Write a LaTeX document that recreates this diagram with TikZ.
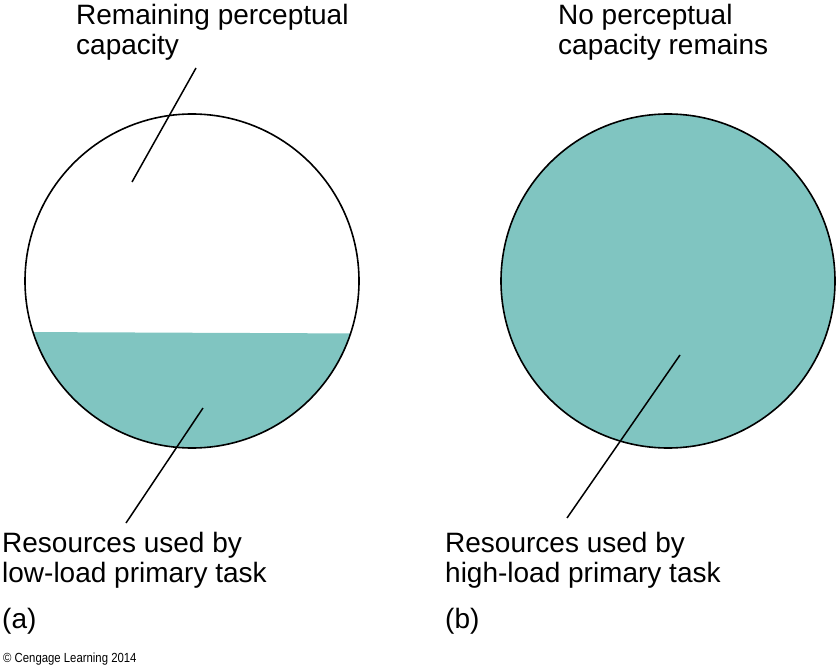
\documentclass[tikz,border=0pt]{standalone}
\usepackage{fontspec}
\setmainfont{Liberation Sans}
\newfontfamily\creditfont[FakeStretch=0.86]{Liberation Sans}
\definecolor{teal1}{RGB}{128,197,193}
\begin{document}
\begin{tikzpicture}[x=1pt,y=-1pt,
  lbl/.style={inner sep=0pt, anchor=base west, align=left, font=\fontsize{28}{30}\selectfont},
  leader/.style={line width=1.5pt, black},
  ring/.style={line width=1.6pt, black}]
\useasboundingbox (0,0) rectangle (836,666);
% left circle
\begin{scope}
  \clip (192,281) circle (167);
  \fill[teal1] (20,332) -- (365,333.5) -- (365,460) -- (20,460) -- cycle;
\end{scope}
\draw[ring] (192,281) circle (167);
% right circle
\draw[ring, fill=teal1] (668,281) circle (167);
% labels (anchor = baseline of the last line)
\node[lbl] (t1) at (76,55) {Remaining perceptual\\capacity};
\node[lbl] (t2) at (558,55) {No perceptual\\capacity remains};
\node[lbl] (t3) at (2,582) {Resources used by\\low-load primary task};
\node[lbl] (t4) at (445,582) {Resources used by\\high-load primary task};
\node[lbl] (a) at (2,628) {(a)};
\node[lbl] (b) at (445,628) {(b)};
\node[inner sep=0pt, anchor=base west, font=\creditfont\fontsize{13.2}{15}\selectfont] (cr) at (3,662) {© Cengage Learning 2014};
% leaders
\coordinate (l1a) at (196,68);
\coordinate (l1b) at (132,182);
\coordinate (l2a) at (203,408);
\coordinate (l2b) at (126,523);
\coordinate (l3a) at (680,355);
\coordinate (l3b) at (567,518);
\draw[leader] (l1a) -- (l1b);
\draw[leader] (l2a) -- (l2b);
\draw[leader] (l3a) -- (l3b);
\end{tikzpicture}
\end{document}
